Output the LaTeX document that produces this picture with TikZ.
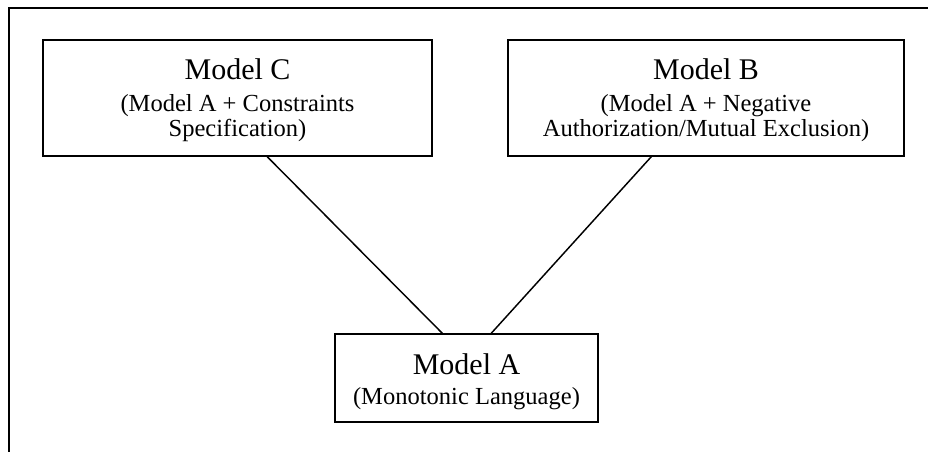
\documentclass[tikz,border=0pt]{standalone}
\usepackage{fontspec}
\setmainfont{Liberation Serif}
\usetikzlibrary{calc}
\tikzset{
  box/.style={draw=black, line width=1.1pt, rectangle, inner sep=0pt},
  ttl/.style={anchor=base, inner sep=0pt, font=\fontsize{22.5}{24}\selectfont},
  sub/.style={anchor=base, inner sep=0pt, font=\fontsize{18.4}{19}\selectfont},
  link/.style={draw=black, line width=1.1pt},
  frame/.style={draw=black, line width=1.5pt}
}
\begin{document}
\begin{tikzpicture}[x=0.75pt, y=-0.75pt]
\useasboundingbox (0,0) rectangle (928,452);
\coordinate (f1) at (9,452);
\coordinate (f2) at (9,8);
\coordinate (f3) at (928,8);
\draw[frame] (f1) -- (f2) -- (f3);

\node[box, minimum width=389*0.75pt, minimum height=116*0.75pt] (C) at (237.5,98) {};
\node[box, minimum width=396*0.75pt, minimum height=116*0.75pt] (B) at (706,98) {};
\node[box, minimum width=263*0.75pt, minimum height=88*0.75pt] (A) at (466.5,378) {};

\node[ttl] (Ct) at ($(C.north)+(0,40)$) {Model C};
\node[sub] (Cs1) at ($(C.north)+(0,72)$) {(Model A + Constraints};
\node[sub] (Cs2) at ($(C.north)+(0,97)$) {Specification)};

\node[ttl] (Bt) at ($(B.north)+(0,40)$) {Model B};
\node[sub] (Bs1) at ($(B.north)+(0,72)$) {(Model A + Negative};
\node[sub] (Bs2) at ($(B.north)+(0,97)$) {Authorization/Mutual Exclusion)};

\node[ttl] (At) at ($(A.north)+(0,41)$) {Model A};
\node[sub] (As1) at ($(A.north)+(0,71)$) {(Monotonic Language)};

\draw[link] ($(C.south west)+(225,0)$) -- ($(A.north west)+(108,0)$);
\draw[link] ($(B.south west)+(144,0)$) -- ($(A.north west)+(157,0)$);
\end{tikzpicture}
\end{document}
